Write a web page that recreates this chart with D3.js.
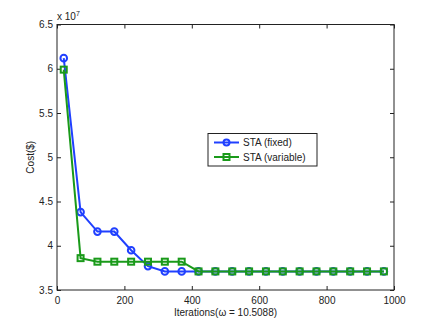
<!DOCTYPE html>
<html>
<head>
<meta charset="utf-8">
<script src="https://cdn.jsdelivr.net/npm/d3@7"></script>
<style>
  body { margin: 0; background: #fff; }
  svg { font-family: "Liberation Sans", Arial, sans-serif; }
</style>
</head>
<body>
<div id="chart"></div>
<script>
// frame size
const FRAME_WIDTH = 436;
const FRAME_HEIGHT = 328;
const MARGINS = {left: 57, right: 42, top: 24.5, bottom: 38};

const VIS_WIDTH = FRAME_WIDTH - MARGINS.left - MARGINS.right;
const VIS_HEIGHT = FRAME_HEIGHT - MARGINS.top - MARGINS.bottom;

// data (cost in units of 1e7)
const ITERATIONS = [20, 70, 120, 170, 220, 270, 320, 370, 420, 470, 520, 570, 620, 670, 720, 770, 820, 870, 920, 970];
const COST_FIXED = [6.12, 4.38, 4.16, 4.16, 3.95, 3.77, 3.71, 3.71, 3.71, 3.71, 3.71, 3.71, 3.71, 3.71, 3.71, 3.71, 3.71, 3.71, 3.71, 3.71];
const COST_VARIABLE = [5.99, 3.86, 3.82, 3.82, 3.82, 3.82, 3.82, 3.82, 3.71, 3.71, 3.71, 3.71, 3.71, 3.71, 3.71, 3.71, 3.71, 3.71, 3.71, 3.71];
const X_TICKS = [0, 200, 400, 600, 800, 1000];
const Y_TICKS = [3.5, 4, 4.5, 5, 5.5, 6, 6.5];
const SERIES_NAMES = ["STA (fixed)", "STA (variable)"];

const BLUE = "#2040ff";
const GREEN = "#1a9a1a";

const FRAME = d3.select("#chart")
                .append("svg")
                  .attr("width", FRAME_WIDTH)
                  .attr("height", FRAME_HEIGHT);

const X_SCALE = d3.scaleLinear().domain([0, 1000]).range([0, VIS_WIDTH]);
const Y_SCALE = d3.scaleLinear().domain([3.5, 6.5]).range([VIS_HEIGHT, 0]);

const G = FRAME.append("g")
               .attr("transform", "translate(" + MARGINS.left + "," + MARGINS.top + ")");

// box
G.append("rect")
   .attr("x", 0).attr("y", 0)
   .attr("width", VIS_WIDTH).attr("height", VIS_HEIGHT)
   .attr("fill", "none").attr("stroke", "#222").attr("stroke-width", 1);

// axes (ticks inward)
function styleAxis(g) {
  g.select(".domain").remove();
  g.selectAll("text").attr("font-size", "10px").attr("fill", "#222");
  g.selectAll("line").attr("stroke", "#222");
}

G.append("g")
   .attr("transform", "translate(0," + VIS_HEIGHT + ")")
   .call(d3.axisBottom(X_SCALE).tickValues(X_TICKS).tickSizeInner(-4).tickSizeOuter(0).tickPadding(7).tickFormat(d3.format("d")))
   .call(styleAxis);
G.append("g")
   .call(d3.axisTop(X_SCALE).tickValues(X_TICKS).tickSizeInner(-4).tickSizeOuter(0).tickFormat(""))
   .call(styleAxis);
G.append("g")
   .call(d3.axisLeft(Y_SCALE).tickValues(Y_TICKS).tickSizeInner(-4).tickSizeOuter(0).tickPadding(4).tickFormat((d) => d3.format("~g")(d)))
   .call(styleAxis);
G.append("g")
   .attr("transform", "translate(" + VIS_WIDTH + ",0)")
   .call(d3.axisRight(Y_SCALE).tickValues(Y_TICKS).tickSizeInner(-4).tickSizeOuter(0).tickFormat(""))
   .call(styleAxis);

// exponent label
const EXP = G.append("text").attr("x", 0).attr("y", -5).attr("font-size", "10px").attr("fill", "#222");
EXP.append("tspan").text("x 10");
EXP.append("tspan").attr("font-size", "7px").attr("dy", -4).text("7");

// axis labels
FRAME.append("text")
  .attr("x", MARGINS.left + VIS_WIDTH / 2).attr("y", FRAME_HEIGHT - 12)
  .attr("text-anchor", "middle").attr("font-size", "10px").attr("fill", "#222")
  .text("Iterations(\u03c9 = 10.5088)");
FRAME.append("text")
  .attr("transform", "translate(34," + (MARGINS.top + VIS_HEIGHT / 2) + ") rotate(-90)")
  .attr("text-anchor", "middle").attr("font-size", "10px").attr("fill", "#222")
  .text("Cost($)");

// lines
const line = d3.line().x((d) => X_SCALE(d[0])).y((d) => Y_SCALE(d[1]));
const fixedData = ITERATIONS.map((x, i) => [x, COST_FIXED[i]]);
const variableData = ITERATIONS.map((x, i) => [x, COST_VARIABLE[i]]);

G.append("path").datum(fixedData).attr("d", line)
   .attr("fill", "none").attr("stroke", BLUE).attr("stroke-width", 2);
G.selectAll(".ptF").data(fixedData).enter().append("circle")
   .attr("cx", (d) => X_SCALE(d[0])).attr("cy", (d) => Y_SCALE(d[1]))
   .attr("r", 3.3).attr("fill", "none").attr("stroke", BLUE).attr("stroke-width", 2);

G.append("path").datum(variableData).attr("d", line)
   .attr("fill", "none").attr("stroke", GREEN).attr("stroke-width", 2);
G.selectAll(".ptV").data(variableData).enter().append("rect")
   .attr("x", (d) => X_SCALE(d[0]) - 3).attr("y", (d) => Y_SCALE(d[1]) - 3)
   .attr("width", 6).attr("height", 6)
   .attr("fill", "none").attr("stroke", GREEN).attr("stroke-width", 2);

// legend
const LEG = FRAME.append("g").attr("transform", "translate(208,133.5)");
LEG.append("rect").attr("width", 109).attr("height", 32.5)
   .attr("fill", "#fff").attr("stroke", "#222").attr("stroke-width", 1);
[BLUE, GREEN].forEach((c, i) => {
  const y = 9 + i * 14.5;
  LEG.append("line").attr("x1", 6).attr("x2", 31).attr("y1", y).attr("y2", y)
     .attr("stroke", c).attr("stroke-width", 2);
  if (i === 0) {
    LEG.append("circle").attr("cx", 18.5).attr("cy", y).attr("r", 3)
       .attr("fill", "none").attr("stroke", c).attr("stroke-width", 2);
  } else {
    LEG.append("rect").attr("x", 15.5).attr("y", y - 3).attr("width", 6).attr("height", 6)
       .attr("fill", "none").attr("stroke", c).attr("stroke-width", 2);
  }
  LEG.append("text").attr("x", 35).attr("y", y + 3.5).attr("font-size", "10px").attr("fill", "#222")
     .text(SERIES_NAMES[i]);
});
</script>
</body>
</html>
